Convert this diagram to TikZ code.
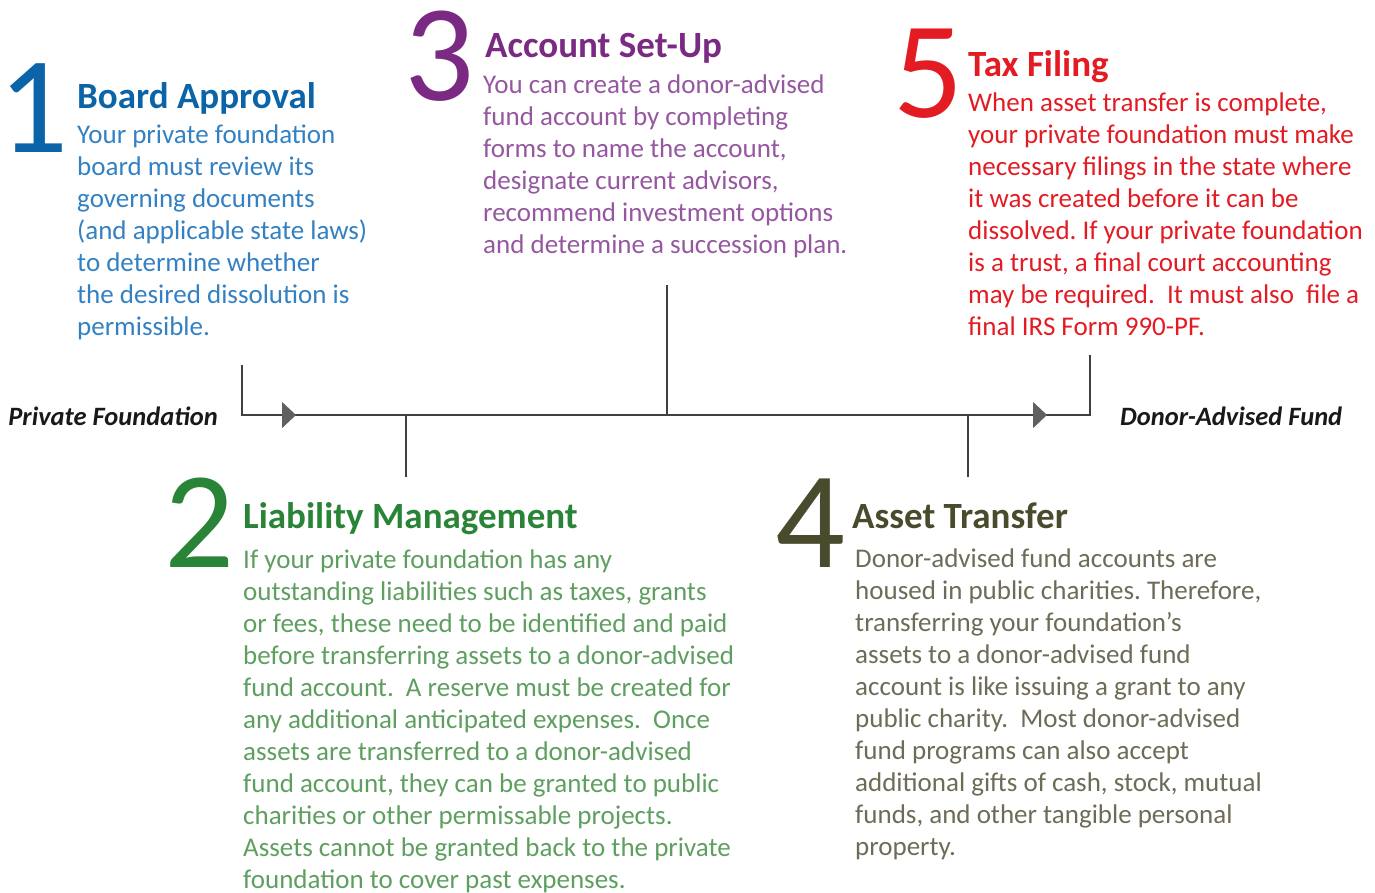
\documentclass[tikz,border=0pt]{standalone}
\usepackage{fontspec}
\setmainfont{Carlito}
\frenchspacing
\usetikzlibrary{arrows.meta}
\definecolor{blueA}{HTML}{0B64A8}
\definecolor{blueB}{HTML}{3381C2}
\definecolor{purpleA}{HTML}{7A2A82}
\definecolor{purpleB}{HTML}{9558A0}
\definecolor{redA}{HTML}{E31B23}
\definecolor{greenA}{HTML}{2A8437}
\definecolor{greenB}{HTML}{5E9F5F}
\definecolor{oliveA}{HTML}{4A4A2C}
\definecolor{oliveB}{HTML}{6E6B56}
\definecolor{axisgray}{HTML}{404040}
\definecolor{tipgray}{HTML}{606060}
\tikzset{
  bignum/.style={anchor=base west,inner sep=0pt,text height=90pt,text depth=0pt,font=\fontsize{138}{138}\selectfont},
  steptitle/.style={anchor=base west,inner sep=0pt,font=\fontsize{37}{42}\selectfont\bfseries},
  stepbody/.style={anchor=north west,inner sep=0pt,align=left,font=\fontsize{27}{32}\selectfont},
  endlabel/.style={inner sep=0pt,font=\fontsize{26.5}{30}\selectfont\bfseries\itshape,text=black!90},
  axis/.style={draw=axisgray,line width=1.4pt},
  flow/.style={axis,-{Triangle[width=26pt,length=14pt,fill=tipgray,color=tipgray]}}
}
\begin{document}
\begin{tikzpicture}[x=1pt,y=-1pt]
    \useasboundingbox (0,0) rectangle (1375,892);

    % time line
    \coordinate (pf) at (242,415);
    \coordinate (pftop) at (242,365);
    \coordinate (daf) at (1090,415);
    \coordinate (daftop) at (1090,355);
    \coordinate (tip1) at (296,415);
    \coordinate (tip2) at (1047,415);
    \coordinate (t2) at (406,415);
    \coordinate (t2end) at (406,477);
    \coordinate (t3) at (667,415);
    \coordinate (t3end) at (667,285);
    \coordinate (t4) at (968,415);
    \coordinate (t4end) at (968,477);

    \draw[axis] (pftop) -- (pf) -- (daf) -- (daftop);
    \draw[flow] (pf) -- (tip1);
    \draw[flow] (t3) -- (tip2);
    \draw[axis] (t2) -- (t2end);
    \draw[axis] (t3) -- (t3end);
    \draw[axis] (t4) -- (t4end);

    \node[endlabel,anchor=base east] (pflabel) at (218,425) {Private Foundation};
    \node[endlabel,anchor=base west] (daflabel) at (1120,425) {Donor-Advised Fund};

    % 1
    \node[bignum,text=blueA] (n1) at (-2,152) {1};
    \node[steptitle,text=blueA] (h1) at (77,108) {Board Approval};
    \node[stepbody,text=blueB] (b1) at (77,125) {Your private foundation\\
        board must review its\\
        governing documents\\
        (and applicable state laws)\\
        to determine whether\\
        the desired dissolution is\\
        permissible.};

    % 3
    \node[bignum,text=purpleA] (n3) at (404,100) {3};
    \node[steptitle,text=purpleA] (h3) at (485,57) {Account Set-Up};
    \node[stepbody,text=purpleB] (b3) at (483,75) {You can create a donor-advised\\
        fund account by completing\\
        forms to name the account,\\
        designate current advisors,\\
        recommend investment options\\
        and determine a succession plan.};

    % 5
    \node[bignum,text=redA] (n5) at (893,117) {5};
    \node[steptitle,text=redA] (h5) at (968,76) {Tax Filing};
    \node[stepbody,text=redA] (b5) at (968,93) {When asset transfer is complete,\\
        your private foundation must make\\
        necessary filings in the state where\\
        it was created before it can be\\
        dissolved. If your private foundation\\
        is a trust, a final court accounting\\
        may be required.~ It must also~ file a\\
        final IRS Form 990-PF.};

    % 2
    \node[bignum,text=greenA] (n2) at (164,567) {2};
    \node[steptitle,text=greenA] (h2) at (243,528) {Liability Management};
    \node[stepbody,text=greenB] (b2) at (243,550) {If your private foundation has any\\
        outstanding liabilities such as taxes, grants\\
        or fees, these need to be identified and paid\\
        before transferring assets to a donor-advised\\
        fund account.~ A reserve must be created for\\
        any additional anticipated expenses.~ Once\\
        assets are transferred to a donor-advised\\
        fund account, they can be granted to public\\
        charities or other permissable projects.\\
        Assets cannot be granted back to the private\\
        foundation to cover past expenses.};

    % 4
    \node[bignum,text=oliveA] (n4) at (775,567) {4};
    \node[steptitle,text=oliveA] (h4) at (852,528) {Asset Transfer};
    \node[stepbody,text=oliveB] (b4) at (855,549) {Donor-advised fund accounts are\\
        housed in public charities. Therefore,\\
        transferring your foundation’s\\
        assets to a donor-advised fund\\
        account is like issuing a grant to any\\
        public charity.~ Most donor-advised\\
        fund programs can also accept\\
        additional gifts of cash, stock, mutual\\
        funds, and other tangible personal\\
        property.};
\end{tikzpicture}
\end{document}
